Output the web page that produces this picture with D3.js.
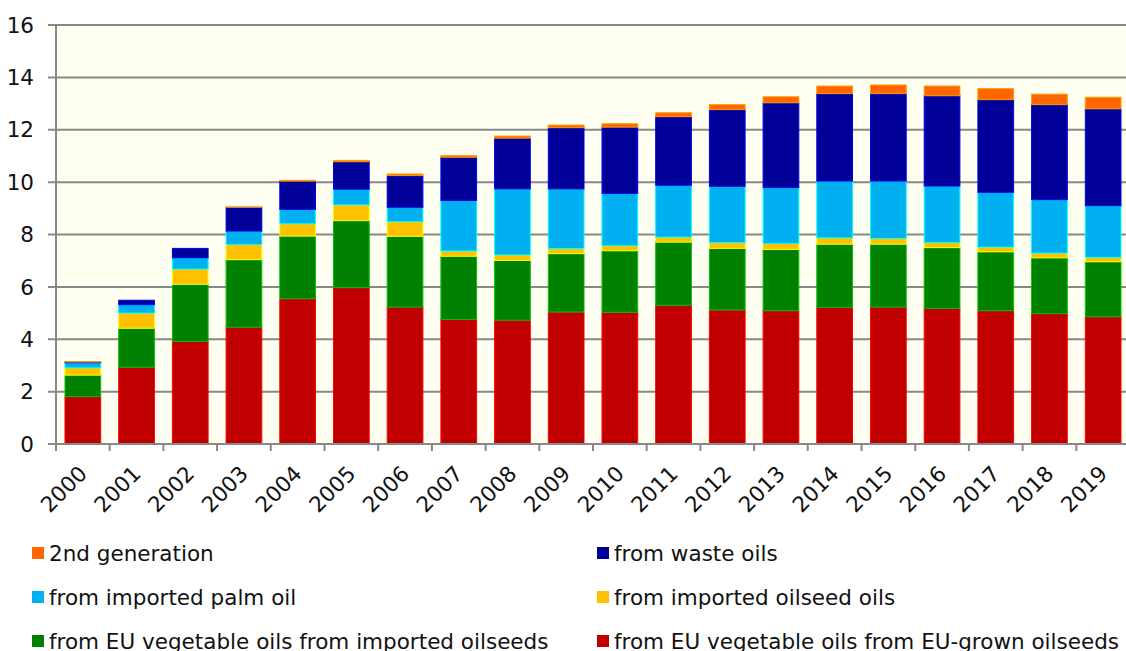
<!DOCTYPE html>
<html>
<head>
<meta charset="utf-8">
<script src="https://cdn.jsdelivr.net/npm/d3@7"></script>
<style>
    body { margin: 0; background: white; }
    svg { display: block; font-family: "DejaVu Sans", Verdana, sans-serif; }
</style>
</head>
<body>
<div id="chart"></div>
<script>

const width = 1126
const height = 651

// data (stacked bottom -> top)
const years = ['2000','2001','2002','2003','2004','2005','2006','2007','2008','2009',
               '2010','2011','2012','2013','2014','2015','2016','2017','2018','2019']

const euGrown     = [1.81, 2.93, 3.92, 4.46, 5.55, 5.97, 5.23, 4.76, 4.73, 5.04, 5.03, 5.30, 5.12, 5.09, 5.22, 5.23, 5.18, 5.09, 4.98, 4.86]
const euImported  = [0.82, 1.49, 2.18, 2.58, 2.39, 2.56, 2.70, 2.41, 2.28, 2.23, 2.35, 2.41, 2.35, 2.34, 2.41, 2.40, 2.32, 2.25, 2.13, 2.10]
const oilseedOils = [0.28, 0.58, 0.58, 0.58, 0.47, 0.60, 0.56, 0.20, 0.21, 0.19, 0.19, 0.19, 0.22, 0.23, 0.24, 0.22, 0.19, 0.18, 0.18, 0.17]
const palmOil     = [0.19, 0.32, 0.43, 0.51, 0.55, 0.60, 0.55, 1.93, 2.52, 2.28, 2.00, 1.98, 2.15, 2.13, 2.17, 2.19, 2.16, 2.09, 2.04, 1.97]
const wasteOils   = [0.03, 0.17, 0.36, 0.91, 1.08, 1.05, 1.21, 1.65, 1.94, 2.34, 2.53, 2.62, 2.93, 3.24, 3.34, 3.34, 3.45, 3.54, 3.63, 3.70]
const secondGen   = [0.01, 0.00, 0.00, 0.01, 0.03, 0.05, 0.06, 0.06, 0.08, 0.10, 0.13, 0.15, 0.19, 0.23, 0.29, 0.33, 0.37, 0.42, 0.40, 0.44]

const seriesNames = [
    'from EU vegetable oils from EU-grown oilseeds',
    'from EU vegetable oils from imported oilseeds',
    'from imported oilseed oils',
    'from imported palm oil',
    'from waste oils',
    '2nd generation'
]
const seriesValues = [euGrown, euImported, oilseedOils, palmOil, wasteOils, secondGen]
const colors = ['#C00000', '#008000', '#FFC000', '#00B0F0', '#000099', '#FF6600']

const yTicks = [0, 2, 4, 6, 8, 10, 12, 14, 16]

// legend order as in the picture: two columns, top row first
const legendOrder = [5, 4, 3, 2, 1, 0]

const fontSize = 21.5

// plot box (right edge runs a little past the window, like the picture)
const margin = {left: 56, top: 25, right: 1130, bottom: 444}

// build rows for d3.stack
let table = years.map((y, i) => {
    let row = {year: y}
    seriesNames.forEach((name, s) => row[name] = seriesValues[s][i])
    return row
})

let stacked = d3.stack().keys(seriesNames)(table)

let x = d3.scaleBand()
    .domain(years)
    .range([margin.left, margin.right])
    .paddingInner(0.335)
    .paddingOuter(0.1675)

let y = d3.scaleLinear()
    .domain([0, 16])
    .range([margin.bottom, margin.top])

let svg = d3.select('#chart')
    .append('svg')
    .attr('width', width)
    .attr('height', height)

// cream plot background
svg.append('rect')
    .attr('x', margin.left)
    .attr('y', margin.top)
    .attr('width', margin.right - margin.left)
    .attr('height', margin.bottom - margin.top)
    .attr('fill', '#FFFFF2')

// gridlines (they poke out left as the tick marks)
svg.append('g')
    .selectAll('line')
    .data(yTicks)
    .join('line')
    .attr('x1', margin.left - 8)
    .attr('x2', margin.right)
    .attr('y1', d => y(d))
    .attr('y2', d => y(d))
    .attr('stroke', '#888')
    .attr('stroke-width', 2)

// bars
svg.append('g')
    .selectAll('g')
    .data(stacked)
    .join('g')
    .attr('fill', (d, i) => colors[i])
    .attr('stroke', (d, i) => d3.color(colors[i]).brighter(1.2))
    .attr('stroke-width', 1)
    .selectAll('rect')
    .data(d => d)
    .join('rect')
    .attr('x', d => x(d.data.year))
    .attr('width', x.bandwidth())
    .attr('y', d => y(d[1]))
    .attr('height', d => Math.max(0, y(d[0]) - y(d[1])))

// y axis line
svg.append('line')
    .attr('x1', margin.left).attr('x2', margin.left)
    .attr('y1', margin.top).attr('y2', margin.bottom)
    .attr('stroke', '#888')
    .attr('stroke-width', 2)

// x axis baseline + ticks at category boundaries
svg.append('line')
    .attr('x1', margin.left).attr('x2', margin.right)
    .attr('y1', margin.bottom).attr('y2', margin.bottom)
    .attr('stroke', '#888')
    .attr('stroke-width', 2)

svg.append('g')
    .selectAll('line')
    .data(years)
    .join('line')
    .attr('x1', d => x(d) - x.step() * x.paddingOuter())
    .attr('x2', d => x(d) - x.step() * x.paddingOuter())
    .attr('y1', margin.bottom)
    .attr('y2', margin.bottom + 7)
    .attr('stroke', '#888')
    .attr('stroke-width', 2)

// y labels
svg.append('g')
    .selectAll('text')
    .data(yTicks)
    .join('text')
    .attr('x', 34)
    .attr('y', d => y(d))
    .attr('dy', '0.36em')
    .attr('text-anchor', 'end')
    .attr('font-size', fontSize)
    .attr('fill', '#111')
    .text(d => d)

// x labels, rotated; anchor = end of baseline
svg.append('g')
    .selectAll('text')
    .data(years)
    .join('text')
    .attr('text-anchor', 'end')
    .attr('font-size', fontSize)
    .attr('fill', '#111')
    .attr('transform', d => `translate(${x(d) + x.bandwidth() / 2 + 5.5}, ${margin.bottom + 31}) rotate(-45)`)
    .text(d => d)

// legend
let legend = svg.append('g')
    .selectAll('g')
    .data(legendOrder)
    .join('g')
    .attr('transform', (s, i) => `translate(${i % 2 == 0 ? 32 : 597}, ${553 + Math.floor(i / 2) * 44})`)

legend.append('rect')
    .attr('x', 0)
    .attr('y', -6)
    .attr('width', 12)
    .attr('height', 12)
    .attr('fill', s => colors[s])

legend.append('text')
    .attr('x', 17)
    .attr('dy', '0.36em')
    .attr('font-size', fontSize)
    .attr('fill', '#111')
    .text(s => seriesNames[s])

</script>
</body>
</html>
